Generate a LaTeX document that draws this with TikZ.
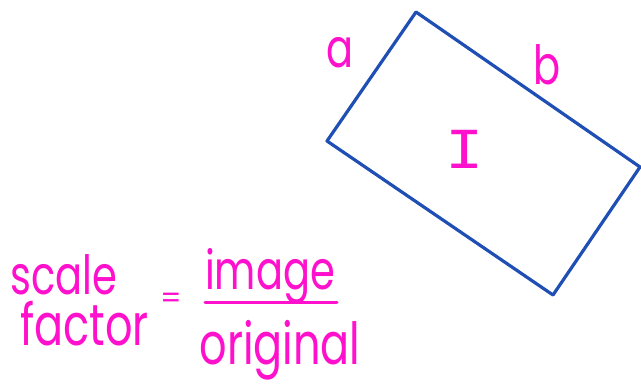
\documentclass[tikz,border=0pt]{standalone}
\usepackage{fontspec}
\setmainfont{Poppins}
\newfontfamily\monoI{Liberation Mono}
\definecolor{rectblue}{HTML}{1F4FB5}
\definecolor{pink}{HTML}{FF10CC}
\newcommand{\tall}[1]{\scalebox{1}[1.35]{#1}}
\begin{document}
\begin{tikzpicture}[x=1pt,y=-1pt,
  hand/.style={text=pink, inner sep=0pt, font=\fontsize{40}{40}\selectfont},
  edge/.style={draw=rectblue, line width=3.2pt, line join=round}]
\useasboundingbox (0,0) rectangle (641,389);
\coordinate (t) at (416,12);
\coordinate (r) at (640,167);
\coordinate (bt) at (553,295);
\coordinate (l) at (327,141);
\draw[edge] (t) -- (r) -- (bt) -- (l) -- cycle;
\node[hand, font=\fontsize{40}{40}\selectfont, anchor=base] (la) at (340,67) {\tall{a}};
\node[hand, font=\fontsize{40}{40}\selectfont, anchor=base] (lb) at (547,84) {\tall{b}};
\node[hand, font=\monoI\fontsize{58}{58}\selectfont, anchor=base] (lI) at (465,168) {\scalebox{1.1}[1]{I}};
\node[hand, anchor=base west] (sc) at (10,294) {\tall{scale}};
\node[hand, font=\fontsize{43}{43}\selectfont, anchor=base west] (fa) at (20,345) {\tall{factor}};
\node[hand, font=\fontsize{30}{30}\selectfont] (eq) at (171,301) {=};
\node[hand, anchor=base] (im) at (270,289) {\tall{image}};
\node[hand, font=\fontsize{43}{43}\selectfont, anchor=base] (or) at (280,364) {\tall{original}};
\coordinate (f1) at (205,302);
\coordinate (f2) at (337,302);
\draw[pink, line width=3pt, line cap=round] (f1) -- (f2);
\end{tikzpicture}
\end{document}
